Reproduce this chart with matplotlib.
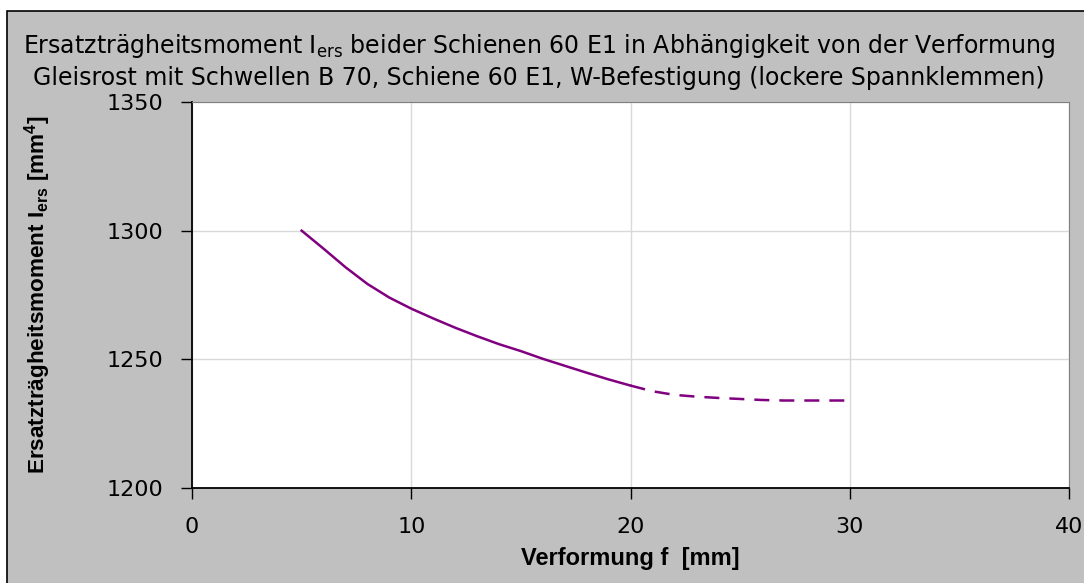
import matplotlib
matplotlib.use("Agg")
import matplotlib.pyplot as plt
from matplotlib.patches import Rectangle

# ── Data ─────────────────────────────────────────────────────────────────────
F_SOLID = [5, 6, 7, 8, 9, 10, 11, 12, 13, 14, 15, 16, 17, 18, 19, 20]
I_SOLID = [1300, 1293, 1285.8, 1279.3, 1274, 1269.7, 1265.9, 1262.3,
           1259, 1255.9, 1253.2, 1250.2, 1247.5, 1244.8, 1242.2, 1239.8]
F_DASH = [20, 21, 22, 23, 24, 25, 26, 27, 28, 29, 30]
I_DASH = [1239.8, 1237.6, 1236.2, 1235.5, 1235.0, 1234.6, 1234.2,
          1234.0, 1234.0, 1234.0, 1234.0]

X_TICKS = [0, 10, 20, 30, 40]
Y_TICKS = [1200, 1250, 1300, 1350]

TITLE = ("Ersatzträgheitsmoment I$_{\\mathregular{ers}}$ beider Schienen 60 E1 "
         "in Abhängigkeit von der Verformung\n"
         "Gleisrost mit Schwellen B 70, Schiene 60 E1, W-Befestigung "
         "(lockere Spannklemmen)")
XLABEL = "Verformung f  [mm]"
YLABEL = "Ersatzträgheitsmoment I$_{\\mathbf{ers}}$ [mm$^{\\mathbf{4}}$]"

PURPLE = "#800080"
BG = "#C0C0C0"

plt.rcParams["mathtext.fontset"] = "custom"
plt.rcParams["mathtext.rm"] = "DejaVu Sans"
plt.rcParams["mathtext.bf"] = "Liberation Sans:bold"

fig = plt.figure(figsize=(10.84, 5.83), dpi=100)
fig.patch.set_facecolor("white")
fig.patches.append(Rectangle((7 / 1084, -0.01), 1.02, (583 - 11) / 583 + 0.01,
                             transform=fig.transFigure, facecolor=BG,
                             edgecolor="black", linewidth=1.2, zorder=-5))

ax = fig.add_axes([192 / 1084, 95 / 583, 877 / 1084, 386 / 583])
ax.set_facecolor("white")

ax.plot(F_SOLID, I_SOLID, color=PURPLE, linewidth=1.8)
ax.plot(F_DASH, I_DASH, color=PURPLE, linewidth=1.8, linestyle=(0, (6, 4)))

ax.set_xlim(0, 40)
ax.set_ylim(1200, 1350)
ax.set_xticks(X_TICKS)
ax.set_yticks(Y_TICKS)
ax.grid(True, color="#D9D9D9", linewidth=1.0)
ax.set_axisbelow(True)

for side in ["top", "right"]:
    ax.spines[side].set_color("#808080")
ax.spines["left"].set_color("black")
ax.spines["bottom"].set_color("black")
ax.spines["left"].set_linewidth(1.3)
ax.spines["bottom"].set_linewidth(1.3)

ax.tick_params(axis="both", direction="out", length=8, width=1.0,
               labelsize=16, colors="black")
ax.tick_params(axis="y", pad=13)
ax.tick_params(axis="x", pad=13)
for lab in ax.get_xticklabels() + ax.get_yticklabels():
    lab.set_family(["DejaVu Sans"])

ax.set_xlabel(XLABEL, fontsize=17, fontweight="bold",
              family=["Liberation Sans"], labelpad=7)
ax.set_ylabel(YLABEL, fontsize=16.2, fontweight="bold",
              family=["Liberation Sans"], labelpad=38)

fig.text(0.497, 0.845, TITLE, ha="center", va="bottom", fontsize=17,
         family=["DejaVu Sans"], linespacing=1.35)

fig.savefig("out.png", dpi=100, facecolor=fig.get_facecolor())
